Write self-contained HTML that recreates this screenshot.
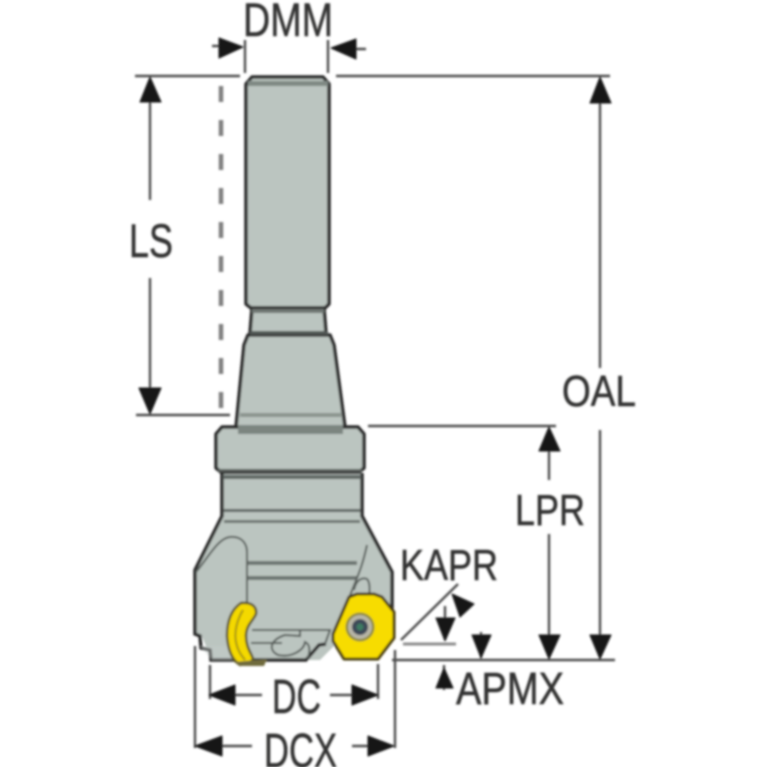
<!DOCTYPE html>
<html><head><meta charset="utf-8"><style>
html,body{margin:0;padding:0;background:#fff;width:767px;height:767px;overflow:hidden}
svg{display:block}
text{font-family:"Liberation Sans",sans-serif;fill:#333331;stroke:#333331;stroke-width:.5}
</style></head><body>
<svg width="767" height="767" viewBox="0 0 767 767" xmlns="http://www.w3.org/2000/svg">
<defs><filter id="b" x="-5%" y="-5%" width="110%" height="110%"><feGaussianBlur stdDeviation="1"/></filter></defs>
<g filter="url(#b)">
<!-- tool body -->
<g fill="#bbc5c0" stroke="#2c2c2c" stroke-width="3.5" stroke-linejoin="round">
<path d="M246 84 L252 77 L323 77 L329 84 L329 304 L325 308 L251 308 L246 304 Z"/>
<path d="M252 308 H324 L326 333 H250 Z"/>
<path d="M248 335 H330 L334 345 L345 427 H236 L244 345 Z"/>
<path d="M222 427 H358 L364 434 V468 L358 473 H222 L216 468 V434 Z"/>
</g>
<path d="M223 474 H361 V515 L391 572 V640 H340 L320 660 H212 L202 637 L196 634 V571 L223 516Z" fill="#bbc5c0"/>
<path d="M222 473 V516 L195 570 V634 L200 636 L201 648 L210 650 L211 660 H306 L319 645 L326 644 M362 473 V516 L392 572 V612" fill="none" stroke="#2c2c2c" stroke-width="3.5"/>
<!-- shading bands -->
<rect x="248" y="81" width="80" height="5" fill="#7f8984"/>
<rect x="252" y="309" width="72" height="4" fill="#6f7773"/>
<rect x="250" y="331" width="78" height="4" fill="#4f5552"/>
<rect x="240" y="413" width="101" height="4" fill="#8b948f"/>
<rect x="238" y="425" width="105" height="9" fill="#7c8580"/>
<rect x="218" y="469" width="144" height="3" fill="#565c59"/>
<rect x="223" y="475" width="138" height="4" fill="#5f6663"/>
<rect x="224" y="509" width="136" height="3" fill="#5f6663"/>
<rect x="224" y="520" width="136" height="3" fill="#6d7571"/>
<rect x="247" y="561" width="110" height="4" fill="#6d7571"/>
<rect x="247" y="576" width="110" height="4" fill="#6d7571"/>
<!-- flute lines -->
<g fill="none" stroke="#555b58" stroke-width="2">
<path d="M196 572 C208 558 218 538 230 537 C243 536 247 545 247 552 V602"/>
<path d="M367 545 C362 568 358 575 349 598"/>
<path d="M354 590 C356 580 362 577 367 579 C370 582 370 590 369 596"/>
<path d="M251 643 H282 M300 630 V636 L285 635 C270 640 268 650 278 655 C292 658 304 650 305 642 C312 645 309 656 307 659"/>
<path d="M252 630 H330 L325 644"/>
</g>
<path d="M200 646 H238 V660 H212Z" fill="#c6cdca" opacity=".4"/>
<!-- left insert -->
<path d="M241 603 C251 602 257 606 256 614 C253 621 246 625 246 636 C246 648 252 654 253 659 L250 663 L240 665 C232 660 228 650 227 636 C227 620 232 609 241 603Z" fill="#f4d900" stroke="#5b5420" stroke-width="2.5"/>
<path d="M243 610 C237 620 234 632 236 642 C238 652 242 656 245 660" fill="none" stroke="#a79410" stroke-width="2"/>
<path d="M234 662 L267 659 L264 666 H240Z" fill="#6f6a3c"/>
<!-- right insert -->
<path d="M349 597 L357 594 H374 L382 597 L394 612 V638 L378 659 H344 L333 641 V634 Z" fill="#f7dc00" stroke="#4a3d0c" stroke-width="3" stroke-linejoin="round"/>
<circle cx="360" cy="627" r="14.5" fill="#8f8a3a"/>
<circle cx="360" cy="627" r="12" fill="#b8b6a8"/>
<circle cx="360" cy="627" r="8" fill="#3e4a58"/>
<circle cx="360" cy="627" r="3.5" fill="#3c7a62"/>
<!-- extension lines -->
<g fill="none" stroke="#4c4c4c" stroke-width="2.4">
<path d="M245 40 V73 M328 40 V73 M135 76 H240 M336 76 H610"/>
<path d="M136 415 H230 M368 426 H556"/>
<path d="M150 80 V200 M150 278 V410"/>
<path d="M600 80 V368 M600 430 V655"/>
<path d="M549 430 V480 M549 534 V655"/>
<path d="M392 660 H615"/>
<path d="M210 665 V699 M378 664 V699 M195 646 V748 M395 650 V748"/>
<path d="M212 46 H228 M350 49 H366"/>
<path d="M210 695 H262 M330 695 H376 M198 746 H252 M352 746 H392"/>
<path d="M401 640 L458 584"/>
<path d="M445 606 V640 M481 632 V658 M444 665 V690"/>
</g>
<path d="M403 644 H456" stroke="#8c8c8c" stroke-width="3"/>
<path d="M221 78 V415" stroke="#808080" stroke-width="4.5" stroke-dasharray="16 18" stroke-dashoffset="-8"/>
<!-- arrowheads -->
<g fill="#141414" stroke="#141414" stroke-width="1" stroke-linejoin="round">
<path d="M150 77 L140 102 H161Z"/>
<path d="M150 414 L139 388 H161Z"/>
<path d="M600 77 L590 103 H611Z"/>
<path d="M600 659 L590 635 H611Z"/>
<path d="M549 427 L539 451 H560Z"/>
<path d="M549 659 L539 635 H560Z"/>
<path d="M243 47 L219 38 V58Z"/>
<path d="M331 48 L356 39 V59Z"/>
<path d="M209 695 L235 685 V705Z"/>
<path d="M378 695 L352 685 V705Z"/>
<path d="M195 746 L222 736 V756Z"/>
<path d="M394 746 L368 736 V756Z"/>
<path d="M445 641 L436 618 H455Z"/>
<path d="M481 658 L472 635 H491Z"/>
<path d="M444 668 L436 688 H453Z"/>
<path d="M452 594 L474 604 L460 617Z"/>
</g>
<!-- labels -->
<text x="243" y="36" font-size="47" textLength="90" lengthAdjust="spacingAndGlyphs">DMM</text>
<text x="129" y="257" font-size="47" textLength="44" lengthAdjust="spacingAndGlyphs">LS</text>
<text x="562" y="406" font-size="44" textLength="74" lengthAdjust="spacingAndGlyphs">OAL</text>
<text x="515" y="525" font-size="44" textLength="70" lengthAdjust="spacingAndGlyphs">LPR</text>
<text x="400" y="580" font-size="44" textLength="98" lengthAdjust="spacingAndGlyphs">KAPR</text>
<text x="456" y="704" font-size="45" textLength="108" lengthAdjust="spacingAndGlyphs">APMX</text>
<text x="272" y="713" font-size="48" textLength="49" lengthAdjust="spacingAndGlyphs">DC</text>
<text x="264" y="767" font-size="48" textLength="73" lengthAdjust="spacingAndGlyphs">DCX</text>
</g>
</svg>
</body></html>
